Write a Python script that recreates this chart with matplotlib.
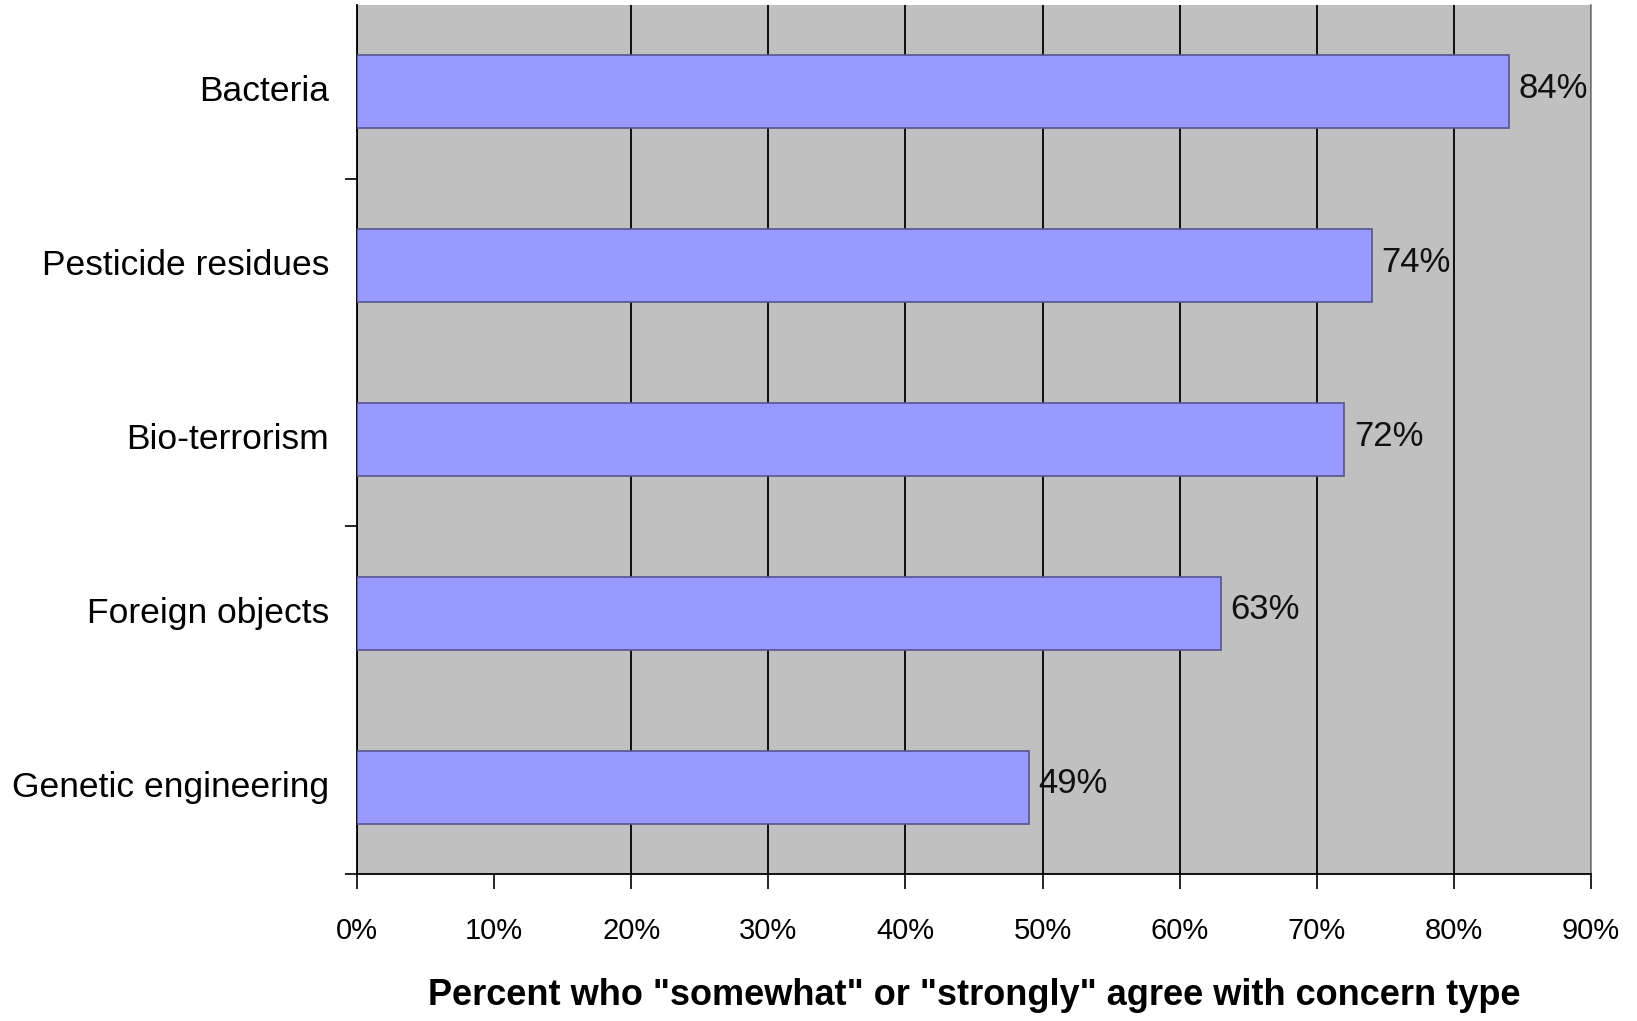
import numpy as np
import matplotlib
matplotlib.use("Agg")
import matplotlib.pyplot as plt

plt.rcParams['font.family'] = ['Liberation Sans', 'DejaVu Sans']

categories = ["Bacteria", "Pesticide residues", "Bio-terrorism",
              "Foreign objects", "Genetic engineering"]
values = [84, 74, 72, 63, 49]
xticks = [0, 10, 20, 30, 40, 50, 60, 70, 80, 90]
xlabels = [f"{t}%" for t in xticks]

fig = plt.figure(figsize=(16.37, 10.21), dpi=100)
ax = fig.add_axes([0.2181, 0.1440, 0.9719 - 0.2181, 0.9951 - 0.1440])
ax.set_facecolor('#C0C0C0')

y = np.arange(len(categories))
bars = ax.barh(y, values, height=0.42, color='#9999FF',
               edgecolor='#55558f', linewidth=1.2, zorder=3)

for yy, v in zip(y, values):
    ax.text(v + 0.7, yy - 0.02, f"{v}%", va='center', ha='left',
            fontsize=25, color='#111111', zorder=4)

ax.set_xlim(0, 90)
ax.set_ylim(len(categories) - 0.5, -0.5)

ax.set_xticks(xticks)
ax.set_xticklabels(xlabels, fontsize=21)
ax.tick_params(axis='x', direction='out', length=11, width=1.2, pad=20)

# gridlines, excel version skips the 10% one
ax.grid(axis='x', color='black', linewidth=1.3, zorder=1)
ax.set_axisbelow(True)
ax.xaxis.get_gridlines()[1].set_visible(False)

ax.set_yticks(y)
ax.set_yticklabels(categories, fontsize=25.5, va='center')
ax.tick_params(axis='y', which='major', length=0, pad=20)
ax.set_yticks([0.5, 2.5, 4.5], minor=True)
ax.tick_params(axis='y', which='minor', direction='out', length=9, width=1.2)

ax.spines['top'].set_visible(False)
ax.spines['right'].set_color('#808080')
ax.spines['right'].set_linewidth(1.2)
ax.spines['left'].set_linewidth(1.3)
ax.spines['bottom'].set_linewidth(1.3)

ax.set_xlabel('Percent who "somewhat" or "strongly" agree with concern type',
              fontsize=26, fontweight='bold', labelpad=24)

fig.savefig("out.png", dpi=100, facecolor='white')
